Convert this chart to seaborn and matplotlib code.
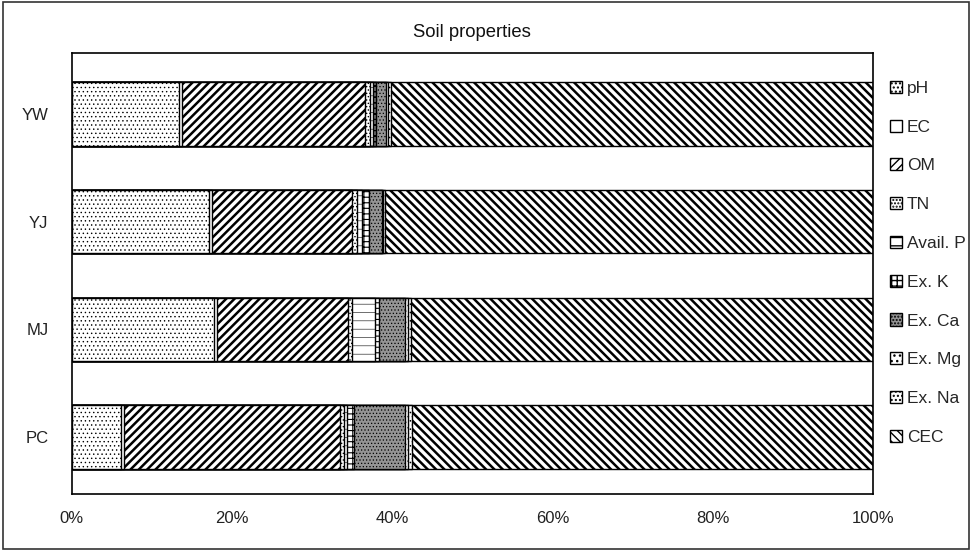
import numpy as np
import pandas as pd
import seaborn as sns
import matplotlib.pyplot as plt
from matplotlib.patches import Patch, Rectangle

sns.set_style('white')
plt.rcParams['font.family'] = ['Liberation Sans', 'DejaVu Sans']

sites = ['YW', 'YJ', 'MJ', 'PC']
props = ['pH', 'EC', 'OM', 'TN', 'Avail. P', 'Ex. K', 'Ex. Ca', 'Ex. Mg', 'Ex. Na', 'CEC']

# share of each property (%) per site
pH = [13.4, 17.1, 17.7, 6.1]
EC = [0.4, 0.4, 0.4, 0.4]
OM = [22.8, 17.5, 16.4, 27.0]
TN = [0.6, 0.6, 0.5, 0.5]
avail_p = [0.4, 0.6, 2.8, 0.4]
ex_k = [0.4, 0.9, 0.5, 0.8]
ex_ca = [1.2, 1.6, 3.3, 6.4]
ex_mg = [0.3, 0.2, 0.3, 0.3]
ex_na = [0.3, 0.2, 0.4, 0.5]
CEC = [60.2, 60.9, 57.7, 57.6]

df = pd.DataFrame([pH, EC, OM, TN, avail_p, ex_k, ex_ca, ex_mg, ex_na, CEC],
                  index=props, columns=sites).T
cum = df.cumsum(axis=1)

# fill / hatch / hatch linewidth per property
styles = {
    'pH': ('white', '....', 0.5),
    'EC': ('white', '', 1.0),
    'OM': ('white', '////', 1.8),
    'TN': ('white', '.....', 0.6),
    'Avail. P': ('white', '--', 0.4),
    'Ex. K': ('white', '+++', 0.8),
    'Ex. Ca': ('#949494', '.....', 0.5),
    'Ex. Mg': ('white', '...', 0.5),
    'Ex. Na': ('white', '....', 0.6),
    'CEC': ('white', '\\\\\\\\', 1.8),
}

fig = plt.figure(figsize=(9.72, 5.51), dpi=100)
ax = fig.add_axes([0.074, 0.1035, 0.824, 0.8])

# draw cumulative bars from longest to shortest so they stack
for p in props[::-1]:
    fc, h, lw = styles[p]
    with plt.rc_context({'hatch.linewidth': lw}):
        sns.barplot(x=cum[p].values, y=sites, order=sites, orient='h', ax=ax,
                    color=fc, edgecolor='black', linewidth=1.0, hatch=h,
                    width=0.59, saturation=1)

ax.set_xlim(0, 100)
ax.set_ylim(3.53, -0.565)
ax.set_xticks(np.arange(0, 101, 20))
ax.set_xticklabels([f'{v}%' for v in range(0, 101, 20)], fontsize=12, color='#222222')
ax.tick_params(axis='y', labelsize=12, length=0, pad=17, labelcolor='#222222')
ax.tick_params(axis='x', length=0, pad=12)
ax.set_xlabel('')
ax.set_ylabel('')
for s in ax.spines.values():
    s.set_color('black')
    s.set_linewidth(1.2)
ax.set_title('Soil properties', fontsize=13.3, pad=12, color='#111111')

handles = []
for p in props:
    fc, h, lw = styles[p]
    with plt.rc_context({'hatch.linewidth': 0.8}):
        handles.append(Patch(facecolor=fc, edgecolor='black', hatch=h, label=p))
fig.legend(handles=handles, loc='upper left', bbox_to_anchor=(0.908, 0.866),
           frameon=False, fontsize=12.5, handlelength=0.7, handleheight=0.7,
           handletextpad=0.3, labelspacing=1.36, borderaxespad=0)

fig.patches.append(Rectangle((0.003, 0.004), 0.994, 0.992, transform=fig.transFigure,
                             fill=False, edgecolor='#333333', linewidth=1.2))

fig.savefig('out.png', dpi=100)
